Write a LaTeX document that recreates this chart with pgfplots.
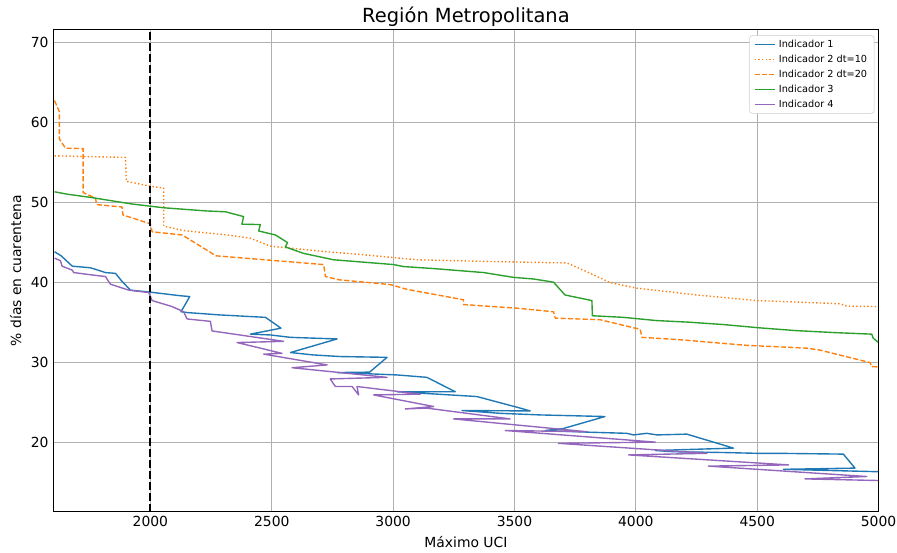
\documentclass[border=0pt]{standalone}
\usepackage{fontspec}
\setmainfont{DejaVu Sans}
\usepackage{pgfplots}
\pgfplotsset{compat=1.18}
\definecolor{tabblue}{HTML}{1F77B4}
\definecolor{taborange}{HTML}{FF7F0E}
\definecolor{tabgreen}{HTML}{2CA02C}
\definecolor{tabpurple}{HTML}{9467BD}
\definecolor{gridgray}{HTML}{B0B0B0}
\begin{document}
\begin{tikzpicture}
\begin{axis}[
  scale only axis, width=594.1pt, height=347.2pt,
  xmin=1600, xmax=5000, ymin=11.3, ymax=71.6,
  xtick={2000,2500,3000,3500,4000,4500,5000},
  ytick={20,30,40,50,60,70},
  grid=major, grid style={color=gridgray, line width=0.8pt},
  major tick length=0pt,
  axis line style={line width=0.8pt},
  /pgf/number format/assume math mode=true,
  /pgf/number format/1000 sep={},
  ticklabel style={font=\fontsize{10}{12}\selectfont},
  title={Región Metropolitana},
  title style={at={(0.5,1)}, anchor=base, yshift=-1.3pt, inner sep=0pt, font=\fontsize{14}{17}\selectfont},
  xlabel={Máximo UCI},
  ylabel={\% días en cuarentena},
  label style={font=\fontsize{10}{12}\selectfont},
  legend style={at={(1,1)}, anchor=north east, xshift=-3pt, yshift=-4.2pt,
    font=\fontsize{7}{8}\selectfont, draw=gray!40, rounded corners=2pt,
    inner xsep=3pt, inner ysep=1pt, row sep=0pt},
  legend cell align=left,
  legend image code/.code={\draw[#1, line width=1.1pt] plot coordinates {(0pt,0pt) (7.5pt,0pt) (15pt,0pt)};},
  every axis plot/.append style={line width=1pt, mark=none, line join=round},
]
\coordinate (ll) at (rel axis cs:0,0);
\coordinate (ur) at (rel axis cs:1,1);

\addplot[tabblue] coordinates {
(1605,43.8) (1632,43.3) (1678,42.0) (1753,41.8) (1815,41.2) (1856,41.1) (1883,40.1) (1918,39.0)
(2000,38.75) (2124,38.3) (2162,38.2) (2126,36.3) (2151,36.2) (2288,35.9) (2474,35.6) (2538,34.25)
(2412,33.5) (2494,33.4) (2577,33.1) (2769,32.9) (2577,31.2) (2671,30.9) (2782,30.7) (2975,30.6)
(2903,28.75) (2769,28.7) (3016,28.4) (3139,28.1) (3256,26.3) (3016,26.3) (3345,25.7) (3524,24.25)
(3565,23.9) (3284,23.95) (3441,23.6) (3606,23.4) (3873,23.2) (3701,21.7) (3627,21.45) (3798,21.25)
(3963,21.1) (3990,20.9) (4045,21.1) (4087,20.9) (4210,21.0) (4265,20.5) (4402,19.25) (4080,18.95)
(4155,18.8) (4361,18.7) (4498,18.6) (4581,18.6) (4855,18.5) (4903,16.75) (4608,16.6) (4998,16.3)
};
\addlegendentry{Indicador 1}

\addplot[taborange, dash pattern=on 1pt off 1.65pt] coordinates {
(1605,55.8) (1897,55.6) (1901,52.6) (2000,52.0) (2055,51.75) (2055,47.0) (2137,46.45) (2315,45.9)
(2412,45.5) (2494,44.5) (2727,43.8) (2850,43.5) (3098,42.8) (3373,42.6) (3716,42.4) (3784,41.5)
(3894,39.95) (4004,39.25) (4251,38.4) (4498,37.7) (4841,37.3) (4869,37.0) (4998,36.95)
};
\addlegendentry{Indicador 2 dt=10}

\addplot[taborange, dash pattern=on 3.7pt off 1.6pt] coordinates {
(1605,62.7) (1625,61.3) (1625,57.9) (1650,56.75) (1723,56.7) (1723,51.2) (1774,50.5) (1778,49.7)
(1883,49.4) (1887,48.4) (2000,47.3) (2007,46.3) (2131,45.9) (2254,43.6) (2268,43.3) (2714,42.2)
(2721,40.7) (2776,40.3) (2988,39.7) (3057,39.1) (3290,37.8) (3290,37.2) (3509,36.75) (3661,36.3)
(3668,35.5) (3853,35.3) (4018,34.1) (4025,33.1) (4183,32.8) (4457,32.1) (4704,31.75) (4759,31.5)
(4965,29.95) (4972,29.45) (4998,29.4)
};
\addlegendentry{Indicador 2 dt=20}

\addplot[tabgreen] coordinates {
(1605,51.3) (1657,51.0) (1753,50.6) (1815,50.3) (1918,49.8) (1972,49.6) (2055,49.3) (2233,48.9)
(2309,48.8) (2384,48.2) (2377,47.25) (2453,47.2) (2446,46.4) (2515,45.9) (2565,44.95) (2556,44.4)
(2631,43.6) (2754,42.8) (3002,42.2) (3043,41.95) (3167,41.7) (3373,41.2) (3496,40.6) (3578,40.4)
(3661,40.0) (3708,38.4) (3819,37.7) (3821,35.8) (3949,35.6) (4084,35.2) (4217,35.0) (4361,34.7)
(4505,34.3) (4656,33.95) (4814,33.7) (4972,33.5) (4978,33.0) (4998,32.5)
};
\addlegendentry{Indicador 3}

\addplot[tabpurple] coordinates {
(1605,43.0) (1629,42.7) (1636,42.0) (1678,41.5) (1684,41.2) (1760,40.9) (1815,40.7) (1835,39.75)
(1911,39.0) (1993,38.7) (2007,37.7) (2089,36.95) (2137,36.3) (2151,35.4) (2247,35.1) (2254,33.9)
(2549,32.6) (2357,32.45) (2542,31.1) (2467,31.0) (2728,29.65) (2584,29.3) (2975,28.1) (2741,27.9)
(2762,26.95) (2831,26.95) (2858,25.9) (2851,26.95) (3112,26.0) (2920,25.9) (3167,24.45) (3050,24.15)
(3139,24.25) (3482,22.9) (3249,22.9) (3798,21.3) (3462,21.45) (4080,20.0) (3681,19.85) (4293,18.6)
(3970,18.4) (4629,17.15) (4299,17.0) (4951,15.7) (4697,15.4) (4998,15.2)
};
\addlegendentry{Indicador 4}

\addplot[black, line width=1.5pt, dash pattern=on 5.5pt off 2.4pt, forget plot] coordinates {(2000,11.3) (2000,71.6)};
\end{axis}
\pgfresetboundingbox
\useasboundingbox ([xshift=-38.4pt,yshift=-29.7pt]ll) rectangle ([xshift=13.3pt,yshift=21.2pt]ur);
\end{tikzpicture}
\end{document}
